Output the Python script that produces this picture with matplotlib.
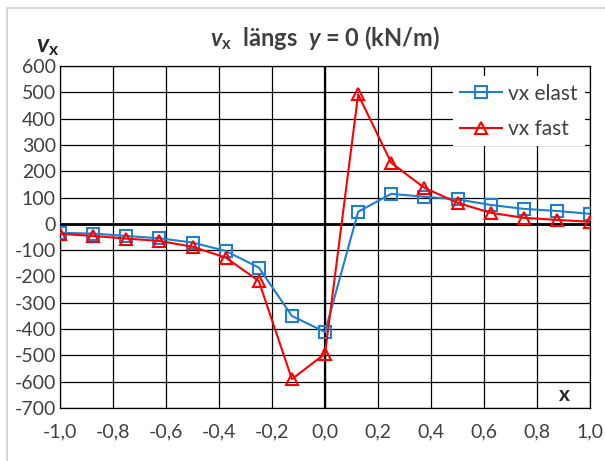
import matplotlib
matplotlib.use("Agg")
import matplotlib.pyplot as plt
from matplotlib.patches import Rectangle
from matplotlib.ticker import FuncFormatter, MultipleLocator

plt.rcParams['font.family'] = ['Lato', 'DejaVu Sans']
plt.rcParams['mathtext.fontset'] = 'custom'
plt.rcParams['mathtext.bf'] = 'Lato:bold'
plt.rcParams['mathtext.bfit'] = 'Lato:bold:italic'
plt.rcParams['mathtext.it'] = 'Lato:italic'
plt.rcParams['mathtext.rm'] = 'Lato'

x = [-1.0, -0.875, -0.75, -0.625, -0.5, -0.375, -0.25, -0.125, 0.0,
     0.125, 0.25, 0.375, 0.5, 0.625, 0.75, 0.875, 1.0]
vx_elast = [-34, -37, -46, -55, -71, -103, -166, -350, -411,
            46, 114, 103, 93, 72, 57, 49, 38]
vx_fast = [-38, -46, -56, -65, -87, -128, -217, -590, -494,
           492, 232, 137, 80, 42, 23, 15, 8]

W, H = 605, 461
fig = plt.figure(figsize=(W / 100, H / 100), dpi=100)

# light grey chart border
fig.patches.append(Rectangle((7 / W, -0.1), 1.2, 1 - 8 / H + 0.1, transform=fig.transFigure,
                             fill=False, edgecolor='#d0d0d0', linewidth=1.2))

ax = fig.add_axes([60 / W, (H - 408) / H, 530 / W, 342 / H])

ax.set_xlim(-1, 1)
ax.set_ylim(-700, 600)
ax.xaxis.set_major_locator(MultipleLocator(0.2))
ax.yaxis.set_major_locator(MultipleLocator(100))
ax.xaxis.set_major_formatter(FuncFormatter(lambda v, p: f"{v:.1f}".replace('.', ',').replace('-0,0', '0,0')))
ax.yaxis.set_major_formatter(FuncFormatter(lambda v, p: f"{v:.0f}"))
ax.tick_params(length=0, labelsize=14, colors='#404040')
ax.tick_params(axis='y', pad=3)
ax.tick_params(axis='x', pad=11)
ax.grid(True, color='black', linewidth=0.9)
for s in ax.spines.values():
    s.set_color('black')
    s.set_linewidth(0.9)
ax.axhline(0, color='black', linewidth=2, zorder=1.5)
ax.axvline(0, color='black', linewidth=1.6, zorder=1.5)

ax.plot(x, vx_elast, color='#1f7fd0', linewidth=1.5, marker='s', markersize=9,
        markerfacecolor='none', markeredgecolor='#1f7fd0', markeredgewidth=1.5,
        label='vx elast', zorder=3)
ax.plot(x, vx_fast, color='#ff0000', linewidth=1.5, marker='^', markersize=9,
        markerfacecolor='none', markeredgecolor='#ff0000', markeredgewidth=1.5,
        label='vx fast', zorder=3)

leg = ax.legend(loc='upper right', bbox_to_anchor=(0.99, 0.97), frameon=True, fontsize=15,
                handlelength=2.0, handletextpad=0.3, borderpad=0.35, labelspacing=0.75,
                fancybox=False, borderaxespad=0)
leg.get_frame().set_facecolor('white')
leg.get_frame().set_edgecolor('none')
leg.get_frame().set_alpha(1)
leg.set_zorder(5)
for t in leg.get_texts():
    t.set_color('#404040')

fig.text(325 / W, 1 - 38 / H, r'$\mathbfit{v}_\mathbf{x}$  längs  $\mathbfit{y}$ = 0 (kN/m)',
         ha='center', va='center', fontsize=17, fontweight='bold', color='#404040')
fig.text(36 / W, 1 - 46 / H, r'$\mathbfit{v}_\mathbf{x}$', ha='left', va='center',
         fontsize=18, color='#262626')
ax.text(0.905, -650, 'x', ha='center', va='center', fontsize=15, fontweight='bold',
        color='#262626')

fig.savefig('out.png', dpi=100)
